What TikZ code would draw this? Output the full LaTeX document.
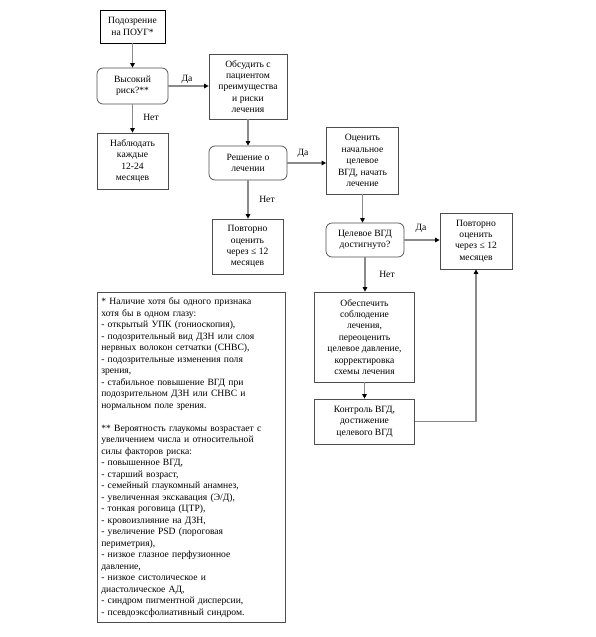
\documentclass[tikz,border=0pt]{standalone}
\usepackage{fontspec}
\setmainfont{Liberation Serif}
\newfontfamily\tnr{Liberation Serif}
\usetikzlibrary{arrows.meta}
\definecolor{boxc}{HTML}{4D4D4D}
\definecolor{linec}{HTML}{8A8A8A}
\newcommand{\fs}{\tnr\fontsize{9.6}{11.4}\selectfont}
\tikzset{
  box/.style={draw=boxc, line width=0.7pt, align=center, inner sep=2pt, font=\fs},
  rbox/.style={box, rounded corners=6pt},
  firstbox/.style={box, draw=black, line width=0.9pt},
  conn/.style={draw=linec, line width=1.1pt, -{Triangle[length=4.5pt,width=4.5pt,color=black]}},
  lbl/.style={font=\fs, inner sep=0pt},
  notes/.style={box, align=left, inner xsep=4pt, text width=180pt, minimum height=330pt, anchor=north west, font=\tnr\fontsize{9.6}{11.5}\selectfont}
}
\begin{document}
\begin{tikzpicture}[x=1pt,y=-1pt]
\useasboundingbox[fill=white] (0,0) rectangle (595,637);

\node[firstbox, minimum width=65pt, minimum height=33pt] (n1) at (132.5,26.5) {Подозрение\\на ПОУГ*};
\node[rbox, minimum width=71pt, minimum height=36pt] (n2) at (132.5,86) {Высокий\\риск?**};
\node[box, minimum width=71pt, minimum height=56pt] (n3) at (132.5,161) {Наблюдать\\каждые\\12-24\\месяцев};
\node[box, minimum width=78pt, minimum height=65pt] (n4) at (248,86.5) {Обсудить с\\пациентом\\преимущества\\и риски\\лечения};
\node[rbox, minimum width=78pt, minimum height=34pt] (n5) at (248,163) {Решение о\\лечении};
\node[box, minimum width=71pt, minimum height=55pt] (n6) at (247.5,246.5) {Повторно\\оценить\\через ≤ 12\\месяцев};
\node[box, minimum width=72pt, minimum height=67pt] (n7) at (362.5,160.5) {Оценить\\начальное\\целевое\\ВГД, начать\\лечение};
\node[rbox, minimum width=78pt, minimum height=34pt] (n8) at (365,240) {Целевое ВГД\\достигнуто?};
\node[box, minimum width=72pt, minimum height=56pt] (n11) at (476,241) {Повторно\\оценить\\через ≤ 12\\месяцев};
\node[box, minimum width=100pt, minimum height=90pt] (n9) at (364.5,337) {Обеспечить\\соблюдение\\лечения,\\переоценить\\целевое давление,\\корректировка\\схемы лечения};
\node[box, minimum width=100pt, minimum height=45pt] (n10) at (364.5,421.5) {Контроль ВГД,\\достижение\\целевого ВГД};

\node[notes] (n12) at (97,292) {* Наличие хотя бы одного признака\\
хотя бы в одном глазу:\\
- открытый УПК (гониоскопия),\\
- подозрительный вид ДЗН или слоя\\
нервных волокон сетчатки (СНВС),\\
- подозрительные изменения поля\\
зрения,\\
- стабильное повышение ВГД при\\
подозрительном ДЗН или СНВС и\\
нормальном поле зрения.\\[11.5pt]
** Вероятность глаукомы возрастает с\\
увеличением числа и относительной\\
силы факторов риска:\\
- повышенное ВГД,\\
- старший возраст,\\
- семейный глаукомный анамнез,\\
- увеличенная экскавация (Э/Д),\\
- тонкая роговица (ЦТР),\\
- кровоизлияние на ДЗН,\\
- увеличение PSD (пороговая\\
периметрия),\\
- низкое глазное перфузионное\\
давление,\\
- низкое систолическое и\\
диастолическое АД,\\
- синдром пигментной дисперсии,\\
- псевдоэксфолиативный синдром.};

\draw[conn] (n1.south) -- (n2.north);
\draw[conn] (n2.east) -- (n2.east -| n4.west);
\draw[conn] (n2.south) -- (n3.north);
\draw[conn] (n4.south) -- (n5.north);
\draw[conn] (n5.east) -- (n5.east -| n7.west);
\draw[conn] (n5.south) -- (n5.south |- n6.north);
\draw[conn] (n7.south) -- (n7.south |- n8.north);
\draw[conn] (n8.east) -- (n8.east -| n11.west);
\draw[conn] (n8.south) -- (n8.south |- n9.north);
\draw[conn] (n9.south) -- (n10.north);
\draw[conn] (n10.east) -| (n11.south);

\node[lbl] (l1) at (187,79) {Да};
\node[lbl] (l2) at (151,117) {Нет};
\node[lbl] (l3) at (303,153) {Да};
\node[lbl] (l4) at (267,199) {Нет};
\node[lbl] (l5) at (421,228) {Да};
\node[lbl] (l6) at (387,274) {Нет};
\end{tikzpicture}
\end{document}
